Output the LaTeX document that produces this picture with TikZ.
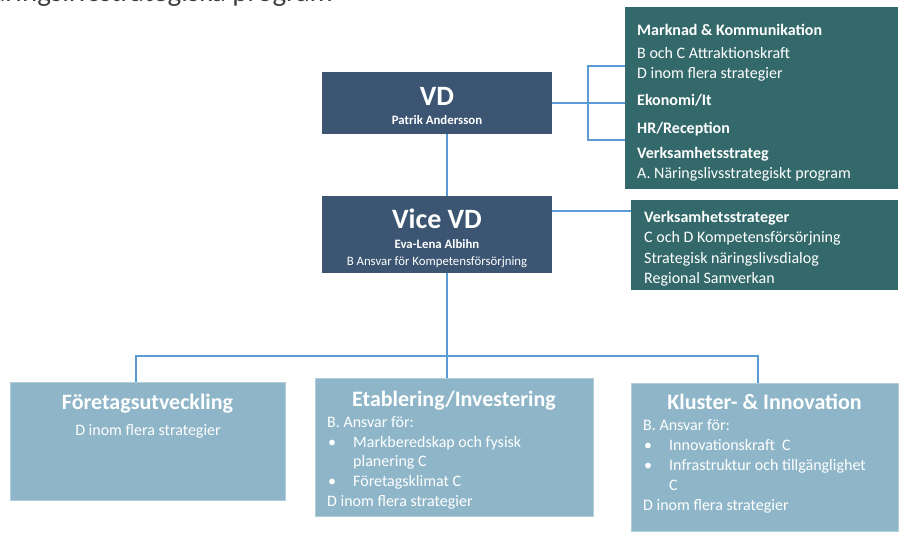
\documentclass[tikz,border=0pt]{standalone}
\usepackage{fontspec}
\setmainfont{Carlito}
\definecolor{vdblue}{HTML}{3B5573}
\definecolor{tealc}{HTML}{33696A}
\definecolor{lightb}{HTML}{8EB6C8}
\definecolor{connc}{HTML}{5B9BD5}
\definecolor{titlegray}{HTML}{404040}
\begin{document}
\begin{tikzpicture}[x=1pt,y=-1pt,
  box/.style={draw=none, inner sep=0pt, outer sep=0pt, anchor=north west},
  dark/.style={box, fill=vdblue},
  tealbox/.style={box, fill=tealc},
  lightbox/.style={box, fill=lightb, draw=lightb!70!white, line width=0.8pt},
  conn/.style={draw=connc, line width=1.8pt},
  txt/.style={text=white, inner sep=0pt, anchor=base west, font=\fontsize{16}{19}\selectfont},
  btxt/.style={txt, font=\fontsize{16}{19}\selectfont\bfseries},
  ctxt/.style={txt, anchor=base},
  big/.style={text=white, inner sep=0pt, anchor=base, font=\fontsize{28}{32}\selectfont\bfseries},
  small/.style={text=white, inner sep=0pt, anchor=base, font=\fontsize{12.8}{15}\selectfont},
  smallb/.style={small, font=\fontsize{12.8}{15}\selectfont\bfseries},
  head/.style={text=white, inner sep=0pt, anchor=base, font=\fontsize{22}{26}\selectfont\bfseries}
]
\useasboundingbox (0,0) rectangle (899,533);
\begin{scope}
\clip (0,0) rectangle (899,533);
\node[text=titlegray, inner sep=0pt, anchor=base east, font=\fontsize{29}{34}\selectfont] (title) at (333,1) {Näringslivsstrategiska program};
\end{scope}

% boxes
\node[dark, minimum width=230pt, minimum height=62pt] (vd) at (322,72) {};
\node[dark, minimum width=230pt, minimum height=77pt] (vice) at (322,196) {};
\node[tealbox, minimum width=273pt, minimum height=182pt] (mk) at (625,7) {};
\node[tealbox, minimum width=267pt, minimum height=90pt] (vs) at (631,200) {};
\node[lightbox, minimum width=275pt, minimum height=118pt] (fu) at (10,382) {};
\node[lightbox, minimum width=278pt, minimum height=138pt] (ei) at (315,378) {};
\node[lightbox, minimum width=267pt, minimum height=148pt] (ki) at (631,383) {};

% connector helper coordinates
\coordinate (bkx) at (588,0);
\coordinate (bkt) at (588,66);
\coordinate (bkb) at (588,140);
\coordinate (vsy) at (0,211);
\coordinate (trunk) at (447,0);
\coordinate (bus) at (0,356);
\coordinate (fux) at (136,0);
\coordinate (kix) at (758,0);

\draw[conn] (vd.east) -- (vd.east -| mk.west);
\draw[conn] (bkt -| mk.west) -- (bkt) -- (bkb) -- (bkb -| mk.west);
\draw[conn] (vice.east |- vsy) -- (vs.west |- vsy);
\draw[conn] (vd.south -| trunk) -- (vice.north -| trunk);
\draw[conn] (vice.south -| trunk) -- (ei.north -| trunk);
\draw[conn] (fu.north -| fux) -- (bus -| fux) -- (bus -| kix) -- (ki.north -| kix);

% VD text
\node[big] (vdt) at (437,105) {VD};
\node[smallb] (vdn) at (437,124) {Patrik Andersson};
\node[big] (vicet) at (437,228) {Vice VD};
\node[smallb] (vicen) at (437,248) {Eva-Lena Albihn};
\node[small] (vicer) at (437,265) {B Ansvar för Kompetensförsörjning};

% top right teal
\node[btxt] (mk1) at (637,35) {Marknad \& Kommunikation};
\node[txt] (mk2) at (637,58) {B och C Attraktionskraft};
\node[txt] (mk3) at (637,78) {D inom flera strategier};
\node[btxt] (mk4) at (637,105) {Ekonomi/It};
\node[btxt] (mk5) at (637,133) {HR/Reception};
\node[btxt] (mk6) at (637,158) {Verksamhetsstrateg};
\node[txt] (mk7) at (637,178) {A. Näringslivsstrategiskt program};

% second teal
\node[btxt] (vs1) at (644,222) {Verksamhetsstrateger};
\node[txt] (vs2) at (644,242) {C och D Kompetensförsörjning};
\node[txt] (vs3) at (644,263) {Strategisk näringslivsdialog};
\node[txt] (vs4) at (644,283) {Regional Samverkan};

% Företagsutveckling
\node[head] (fut) at (147.5,409) {Företagsutveckling};
\node[ctxt] (fu1) at (148,435) {D inom flera strategier};

% Etablering/Investering
\node[head] (eit) at (454,406) {Etablering/Investering};
\node[txt] (ei1) at (327,427) {B. Ansvar för:};
\node[txt] (eib1) at (328,447) {•};
\node[txt] (ei2) at (353,447) {Markberedskap och fysisk};
\node[txt] (ei3) at (353,466) {planering C};
\node[txt] (eib2) at (328,486) {•};
\node[txt] (ei4) at (353,486) {Företagsklimat C};
\node[txt] (ei5) at (327,506) {D inom flera strategier};

% Kluster- & Innovation
\node[head] (kit) at (764.5,409) {Kluster- \& Innovation};
\node[txt] (ki1) at (643,430) {B. Ansvar för:};
\node[txt] (kib1) at (644,450) {•};
\node[txt] (ki2) at (669,450) {Innovationskraft~ C};
\node[txt] (kib2) at (644,470) {•};
\node[txt] (ki3) at (669,470) {Infrastruktur och tillgänglighet};
\node[txt] (ki4) at (669,490) {C};
\node[txt] (ki5) at (643,510) {D inom flera strategier};
\end{tikzpicture}
\end{document}
